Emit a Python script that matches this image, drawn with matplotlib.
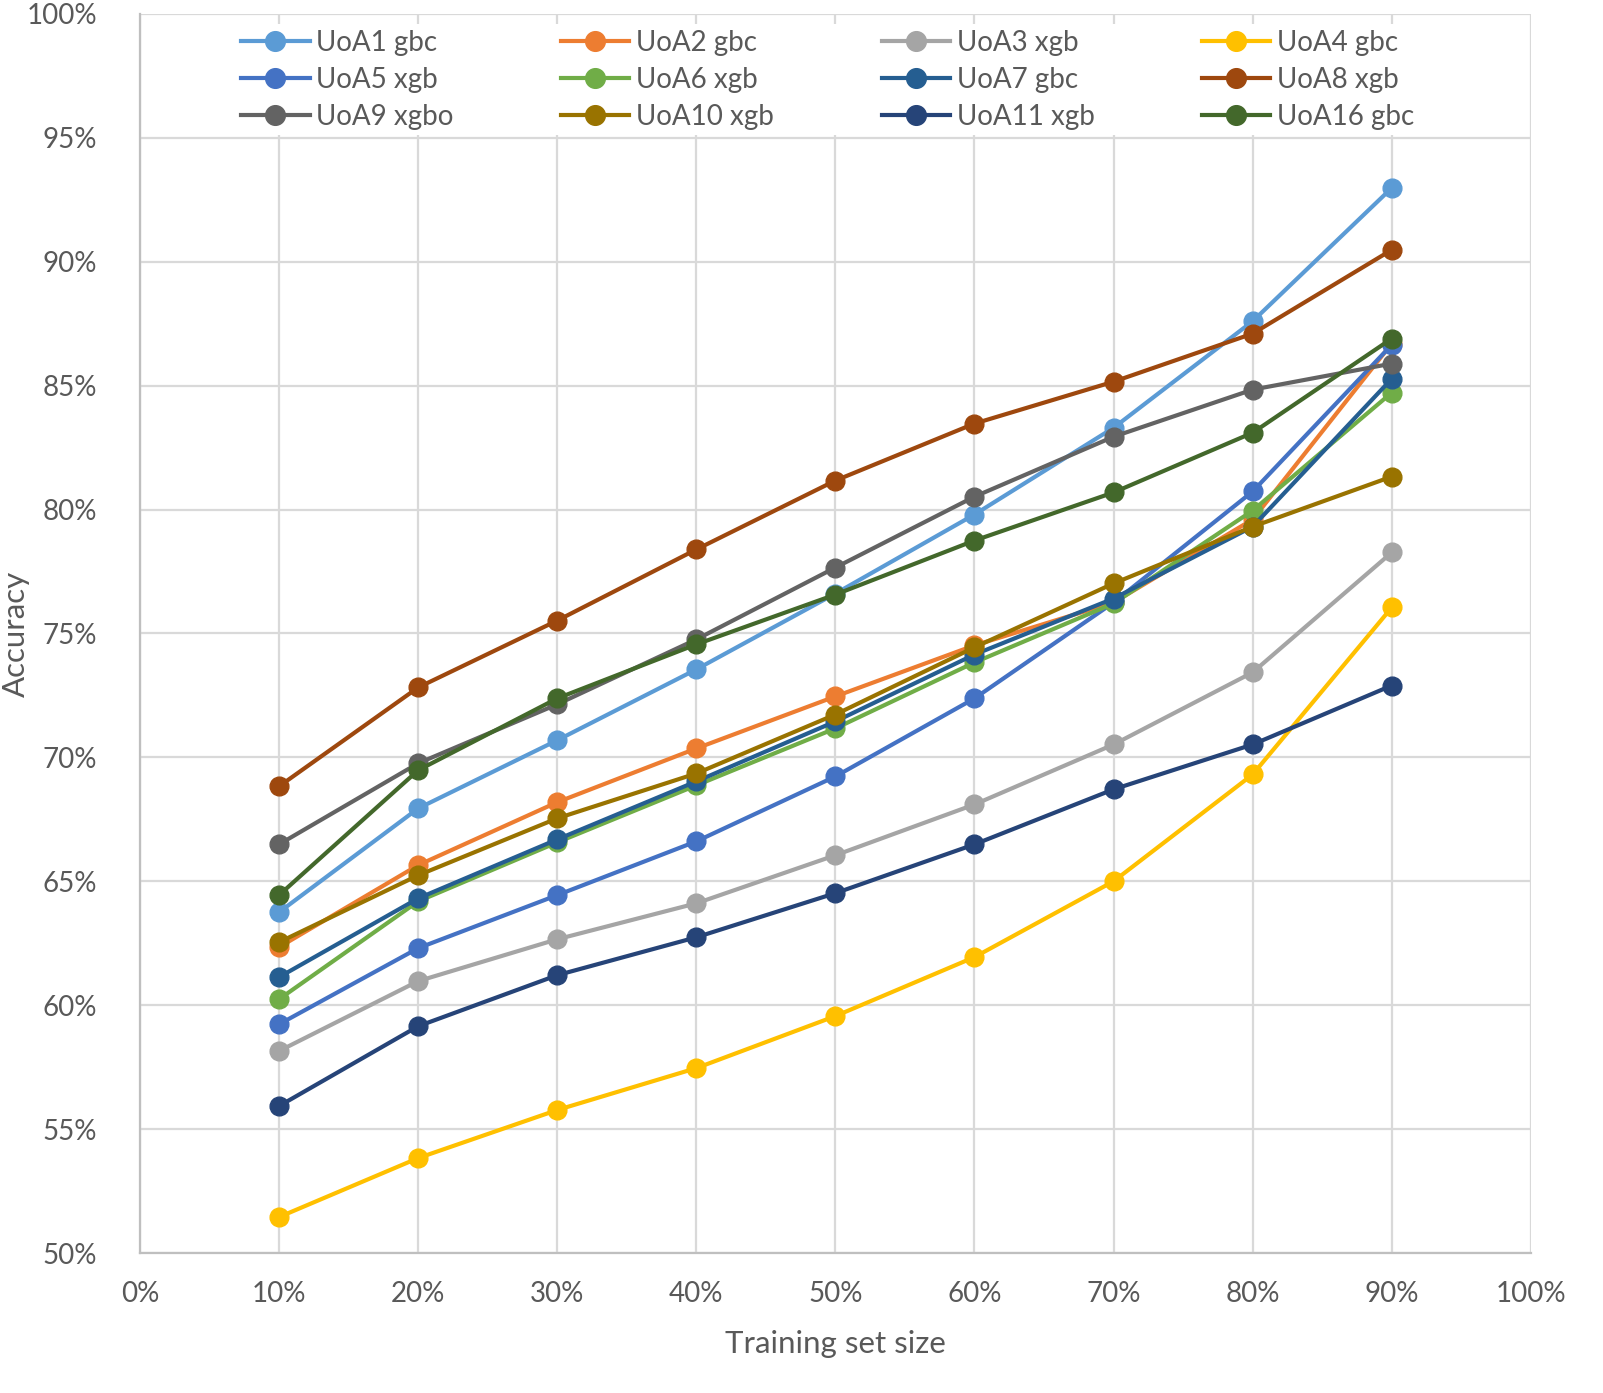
import matplotlib.pyplot as plt
from matplotlib.ticker import PercentFormatter

plt.rcParams['font.family'] = ['Lato', 'DejaVu Sans']

train_size = [10, 20, 30, 40, 50, 60, 70, 80, 90]

uoa1_gbc = [63.75, 67.94, 70.69, 73.55, 76.61, 79.80, 83.30, 87.60, 92.98]
uoa2_gbc = [62.34, 65.65, 68.19, 70.36, 72.46, 74.52, 76.25, 79.60, 86.70]
uoa3_xgb = [58.15, 60.97, 62.66, 64.11, 66.05, 68.10, 70.52, 73.43, 78.27]
uoa4_gbc = [51.45, 53.83, 55.77, 57.46, 59.56, 61.94, 65.00, 69.31, 76.05]
uoa5_xgb = [59.23, 62.30, 64.44, 66.61, 69.23, 72.38, 76.25, 80.73, 86.65]
uoa6_xgb = [60.24, 64.19, 66.57, 68.87, 71.17, 73.83, 76.21, 79.96, 84.72]
uoa7_gbc = [61.13, 64.31, 66.69, 69.03, 71.45, 74.15, 76.41, 79.31, 85.28]
uoa8_xgb = [68.83, 72.82, 75.52, 78.39, 81.17, 83.47, 85.16, 87.10, 90.48]
uoa9_xgbo = [66.49, 69.76, 72.14, 74.76, 77.66, 80.52, 82.94, 84.84, 85.89]
uoa10_xgb = [62.54, 65.24, 67.54, 69.35, 71.73, 74.44, 77.02, 79.31, 81.33]
uoa11_xgb = [55.93, 59.15, 61.21, 62.74, 64.52, 66.49, 68.71, 70.52, 72.90]
uoa16_gbc = [64.44, 69.48, 72.38, 74.56, 76.57, 78.75, 80.69, 83.10, 86.90]

series = [
    ("UoA1 gbc", uoa1_gbc, "#5B9BD5"),
    ("UoA2 gbc", uoa2_gbc, "#ED7D31"),
    ("UoA3 xgb", uoa3_xgb, "#A5A5A5"),
    ("UoA4 gbc", uoa4_gbc, "#FFC000"),
    ("UoA5 xgb", uoa5_xgb, "#4472C4"),
    ("UoA6 xgb", uoa6_xgb, "#70AD47"),
    ("UoA7 gbc", uoa7_gbc, "#255E91"),
    ("UoA8 xgb", uoa8_xgb, "#9E480E"),
    ("UoA9 xgbo", uoa9_xgbo, "#636363"),
    ("UoA10 xgb", uoa10_xgb, "#997300"),
    ("UoA11 xgb", uoa11_xgb, "#264478"),
    ("UoA16 gbc", uoa16_gbc, "#43682B"),
]

text_col = '#595959'

fig = plt.figure(figsize=(16.03, 13.93), dpi=100)
ax = fig.add_axes([0.0873, 0.1005, 0.8677, 0.8895])

handles = []
for name, vals, col in series:
    h, = ax.plot(train_size, vals, color=col, linewidth=3.0, marker='o',
                 markersize=13.5, label=name)
    handles.append(h)

ax.set_xlim(0, 100)
ax.set_ylim(50, 100)
ax.set_xticks(range(0, 101, 10))
ax.set_yticks(range(50, 101, 5))
ax.xaxis.set_major_formatter(PercentFormatter(decimals=0))
ax.yaxis.set_major_formatter(PercentFormatter(decimals=0))
ax.grid(True, color='#D9D9D9', linewidth=1.6)
ax.set_axisbelow(True)
ax.tick_params(axis='x', length=0, labelsize=20, labelcolor=text_col, pad=20)
ax.tick_params(axis='y', length=0, labelsize=20, labelcolor=text_col, pad=31)
for s in ['top', 'right']:
    ax.spines[s].set_visible(False)
for s in ['left', 'bottom']:
    ax.spines[s].set_color('#BFBFBF')
    ax.spines[s].set_linewidth(1.6)

ax.set_xlabel("Training set size", fontsize=22.5, color=text_col, labelpad=17)
ax.set_ylabel("Accuracy", fontsize=22.5, color=text_col)
ax.yaxis.set_label_coords(-0.079, 0.5)

# legend fills rows first, matplotlib fills columns, so reorder
ncol = 4
order = [handles[r * ncol + c] for c in range(ncol) for r in range(3)]
leg = ax.legend(handles=order, ncol=ncol, loc='upper left',
                bbox_to_anchor=(0.059, 1.003), fontsize=20, frameon=True,
                facecolor='white', edgecolor='none', framealpha=1,
                handlelength=2.45, columnspacing=3.87, labelspacing=0.40,
                handletextpad=0.25, borderpad=0.2, markerscale=1.05)
for t in leg.get_texts():
    t.set_color(text_col)

fig.savefig("out.png", dpi=100)
